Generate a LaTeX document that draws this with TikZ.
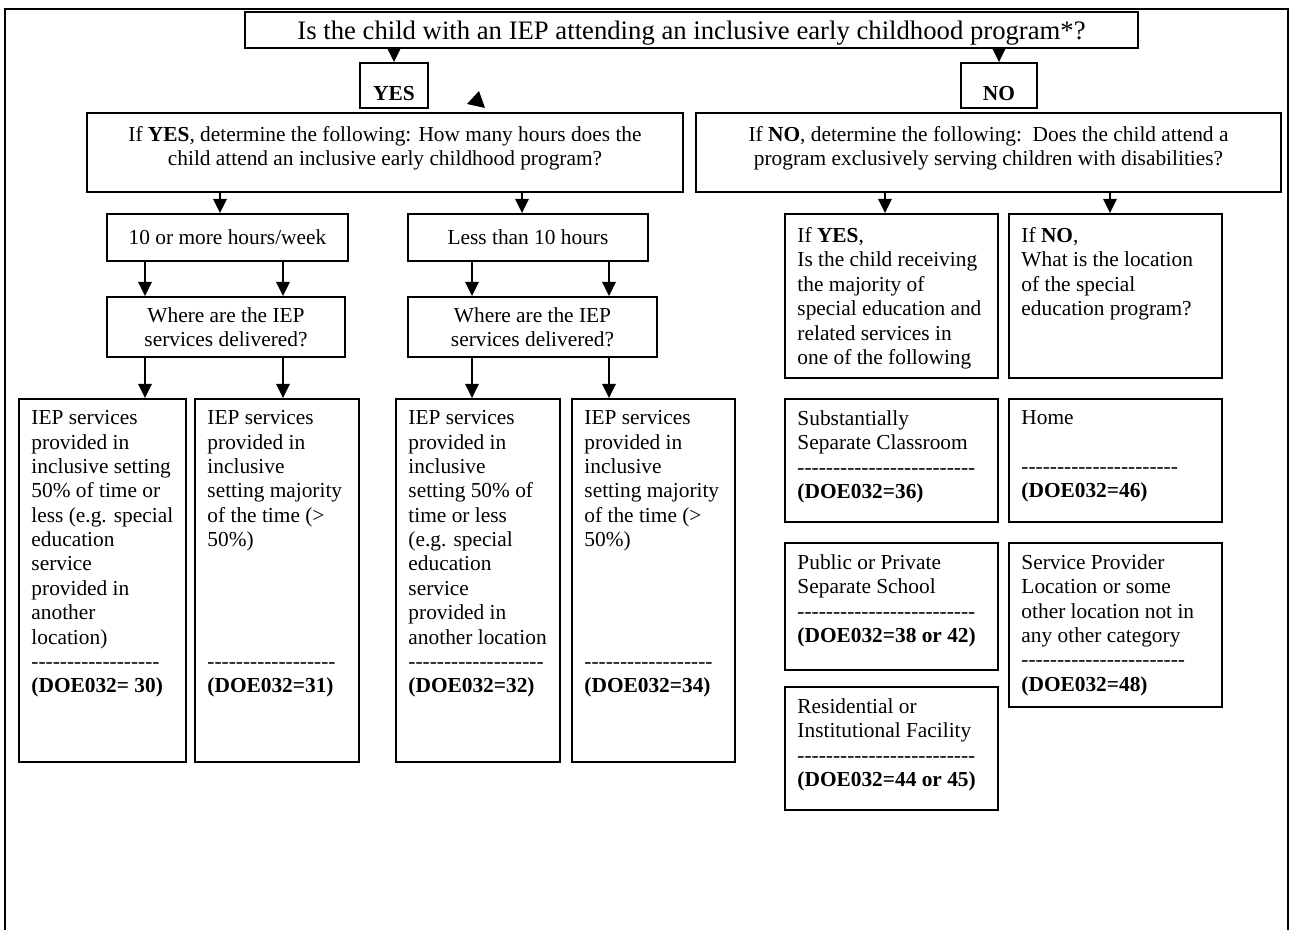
\documentclass[tikz,border=0pt]{standalone}
\usepackage{fontspec}
\setmainfont{Liberation Serif}[Ligatures=TeXOff]
\usetikzlibrary{arrows.meta,fit}

\begin{document}
\begin{tikzpicture}[x=0.5618pt, y=0.5618pt,
        font=\fontsize{12}{13.7}\selectfont,
        box/.style={draw, line width=1pt, inner sep=0pt},
        txt/.style={anchor=north west, inner sep=0pt, align=left},
        mid/.style={label={[align=center]center:#1}},
        arr/.style={-{Triangle[length=8pt,width=7.5pt]}, line width=1.2pt}]
    \useasboundingbox (0,0) rectangle (1296,-930);
    \draw[line width=1pt] (5,-930) -- (5,-9) -- (1288,-9) -- (1288,-930);

    \node[box, fit={(245,-12) (1138,-48)}, label={[font=\fontsize{15}{18}\selectfont, yshift=-1.5pt]center:Is the child with an IEP attending an inclusive early childhood program*?}] (q) {};
    \node[box, fit={(360,-63) (428,-108)}, label={[yshift=-4.5pt]center:\textbf{YES}}] (yes) {};
    \node[box, fit={(961,-63) (1037,-108)}, label={[yshift=-4.5pt]center:\textbf{NO}}] (no) {};
    \fill (479,-91) -- (467,-104) -- (485,-108) -- cycle;

    \node[box, fit={(87,-113) (683,-192)}, label={[align=center, yshift=2.5pt]center:If \textbf{YES}, determine the following: How many hours does the\\child attend an inclusive early childhood program?}] (ydet) {};
    \node[box, fit={(696,-113) (1281,-192)}, label={[align=center, yshift=2.5pt]center:If \textbf{NO}, determine the following:\ \ Does the child attend a\\program exclusively serving children with disabilities?}] (ndet) {};

    \node[box, fit={(107,-214) (348,-261)}, mid={10 or more hours/week}] (tenp) {};
    \node[box, fit={(408,-214) (648,-261)}, mid={Less than 10 hours}] (less) {};
    \node[box, fit={(107,-297) (345,-357)}, mid={Where are the IEP\\services delivered?}] (where1) {};
    \node[box, fit={(408,-297) (657,-357)}, mid={Where are the IEP\\services delivered?}] (where2) {};

    \node[box, fit={(19,-399) (186,-762)}] (svca) {};
    \node[box, fit={(195,-399) (359,-762)}] (svcb) {};
    \node[box, fit={(396,-399) (560,-762)}] (svcc) {};
    \node[box, fit={(572,-399) (735,-762)}] (svcd) {};
    \node[txt] at ([shift={(13,-12)}]svca.north west) {IEP services\\provided in\\inclusive setting\\50\% of time or\\less (e.g. special\\education\\service\\provided in\\another\\location)\\------------------\\\textbf{(DOE032= 30)}};
    \node[txt] at ([shift={(13,-12)}]svcb.north west) {IEP services\\provided in\\inclusive\\setting majority\\of the time (>\\50\%)\\[54.8pt]------------------\\\textbf{(DOE032=31)}};
    \node[txt] at ([shift={(13,-12)}]svcc.north west) {IEP services\\provided in\\inclusive\\setting 50\% of\\time or less\\(e.g. special\\education\\service\\provided in\\another location\\-------------------\\\textbf{(DOE032=32)}};
    \node[txt] at ([shift={(13,-12)}]svcd.north west) {IEP services\\provided in\\inclusive\\setting majority\\of the time (>\\50\%)\\[54.8pt]------------------\\\textbf{(DOE032=34)}};

    \node[box, fit={(785,-214) (998,-378)}] (ifyes) {};
    \node[box, fit={(1009,-214) (1222,-378)}] (ifno) {};
    \node[txt] at ([shift={(13,-14)}]ifyes.north west) {If \textbf{YES},\\Is the child receiving\\the majority of\\special education and\\related services in\\one of the following};
    \node[txt] at ([shift={(13,-14)}]ifno.north west) {If \textbf{NO},\\What is the location\\of the special\\education program?};

    \node[box, fit={(785,-399) (998,-522)}] (sepcls) {};
    \node[box, fit={(1009,-399) (1222,-522)}] (home) {};
    \node[box, fit={(785,-543) (998,-670)}] (pubsch) {};
    \node[box, fit={(1009,-543) (1222,-707)}] (provloc) {};
    \node[box, fit={(785,-687) (998,-810)}] (resfac) {};
    \node[txt] at ([shift={(13,-12)}]sepcls.north west) {Substantially\\Separate Classroom\\-------------------------\\\textbf{(DOE032=36)}};
    \node[txt] at ([shift={(13,-12)}]home.north west) {Home\\[13.7pt]----------------------\\\textbf{(DOE032=46)}};
    \node[txt] at ([shift={(13,-12)}]pubsch.north west) {Public or Private\\Separate School\\-------------------------\\\textbf{(DOE032=38 or 42)}};
    \node[txt] at ([shift={(13,-12)}]provloc.north west) {Service Provider\\Location or some\\other location not in\\any other category\\-----------------------\\\textbf{(DOE032=48)}};
    \node[txt] at ([shift={(13,-12)}]resfac.north west) {Residential or\\Institutional Facility\\-------------------------\\\textbf{(DOE032=44 or 45)}};

    \coordinate (c1) at (145,0);
    \coordinate (c2) at (283,0);
    \coordinate (c3) at (472,0);
    \coordinate (c4) at (609,0);
    \coordinate (c5) at (220,0);
    \coordinate (c6) at (522,0);
    \coordinate (c7) at (885,0);
    \coordinate (c8) at (1110,0);

    \draw[arr] (q.south -| yes.north) -- (yes.north);
    \draw[arr] (q.south -| no.north) -- (no.north);
    \draw[arr] (ydet.south -| c5) -- (tenp.north -| c5);
    \draw[arr] (ydet.south -| c6) -- (less.north -| c6);
    \draw[arr] (ndet.south -| c7) -- (ifyes.north -| c7);
    \draw[arr] (ndet.south -| c8) -- (ifno.north -| c8);
    \draw[arr] (tenp.south -| c1) -- (where1.north -| c1);
    \draw[arr] (tenp.south -| c2) -- (where1.north -| c2);
    \draw[arr] (less.south -| c3) -- (where2.north -| c3);
    \draw[arr] (less.south -| c4) -- (where2.north -| c4);
    \draw[arr] (where1.south -| c1) -- (svca.north -| c1);
    \draw[arr] (where1.south -| c2) -- (svcb.north -| c2);
    \draw[arr] (where2.south -| c3) -- (svcc.north -| c3);
    \draw[arr] (where2.south -| c4) -- (svcd.north -| c4);
\end{tikzpicture}
\end{document}
